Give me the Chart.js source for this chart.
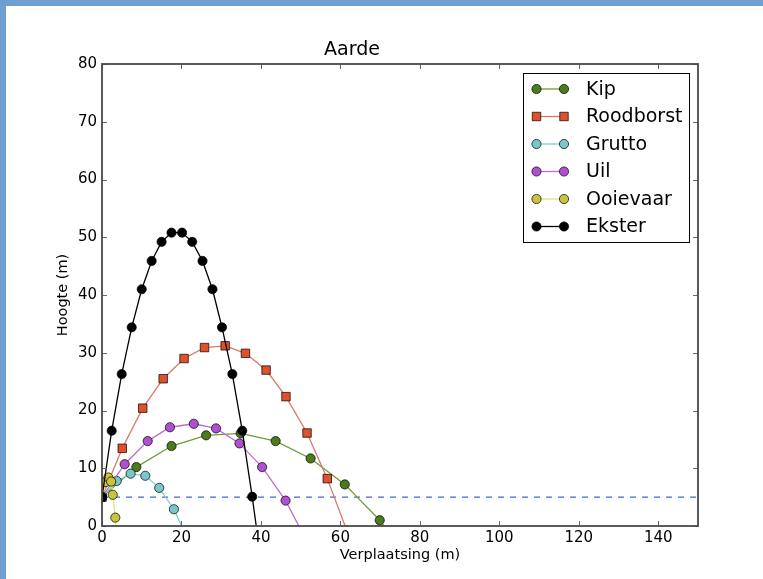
<!DOCTYPE html>
<html>
<head>
<meta charset="utf-8">
<script src="https://cdn.jsdelivr.net/npm/chart.js@4.4.1/dist/chart.umd.min.js"></script>
<style>
  html, body { margin: 0; padding: 0; background: #fff; }
  #wrap { width: 757px; height: 573px; border-left: 6px solid #6f9ed1; border-top: 6px solid #6f9ed1; background: #fff; }
  canvas { display: block; }
</style>
</head>
<body>
<div id="wrap"><canvas id="myChart" width="757" height="573"></canvas></div>
<script>
// series: horizontal distance (m) and height (m)
const kipX = [0, 8.65, 17.5, 26.2, 34.9, 43.7, 52.5, 61.1, 69.9, 78.7];
const kipY = [5, 10.2, 13.85, 15.7, 16.05, 14.7, 11.7, 7.2, 1.0, -6.8];

const roodborstX = [0, 5.1, 10.25, 15.4, 20.65, 25.8, 31.0, 36.1, 41.3, 46.3, 51.6, 56.7, 61.9];
const roodborstY = [5, 13.45, 20.4, 25.5, 29.0, 30.9, 31.2, 29.9, 27.0, 22.4, 16.1, 8.2, -1.3];

const gruttoX = [0, 3.7, 7.2, 10.9, 14.4, 18.1, 21.7];
const gruttoY = [5, 7.8, 9.06, 8.7, 6.6, 2.9, -2.5];

const uilX = [0, 5.7, 11.5, 17.1, 23.1, 28.7, 34.6, 40.3, 46.2, 51.9];
const uilY = [5, 10.7, 14.7, 17.1, 17.7, 16.9, 14.3, 10.2, 4.4, -3.1];

const ooievaarX = [0, 0.9, 1.6, 2.3, 2.7, 3.35, 3.8];
const ooievaarY = [5, 7.6, 8.4, 7.7, 5.4, 1.45, -3.5];

const eksterX = [0, 2.44, 4.96, 7.48, 10.0, 12.5, 15.0, 17.5, 20.15, 22.7, 25.3, 27.8, 30.2, 32.8, 35.3, 37.8, 40.3];
const eksterY = [5, 16.5, 26.3, 34.4, 41.0, 45.9, 49.2, 50.8, 50.8, 49.2, 45.9, 41.0, 34.4, 26.3, 16.5, 5.07, -7.4];

const refX = [0, 150];
const refY = [5, 5];

const xTicks = [0, 20, 40, 60, 80, 100, 120, 140];
const yTicks = [0, 10, 20, 30, 40, 50, 60, 70, 80];

const FONT = "'DejaVu Sans', sans-serif";

function pts(xs, ys) {
  return xs.map((x, i) => ({ x: x, y: ys[i] }));
}

function series(label, xs, ys, line, fill, style, radius, order) {
  return {
    label: label,
    data: pts(xs, ys),
    borderColor: line,
    borderWidth: 1.3,
    pointBackgroundColor: fill,
    pointBorderColor: '#000',
    pointBorderWidth: 0.7,
    pointStyle: style,
    pointRadius: radius,
    pointHoverRadius: radius,
    tension: 0,
    clip: 0,
    order: order
  };
}

const datasets = [
  {
    label: 'ref',
    data: pts(refX, refY),
    borderColor: '#3b5fd9',
    borderWidth: 1.2,
    borderDash: [6, 6],
    pointRadius: 0,
    clip: 0,
    order: 10
  },
  series('Kip', kipX, kipY, '#6f9b3c', '#4c7a1c', 'circle', 4.6, 6),
  series('Roodborst', roodborstX, roodborstY, '#d97a66', '#e0502c', 'rect', 6, 5),
  series('Grutto', gruttoX, gruttoY, '#86ccd0', '#7ac6ca', 'circle', 4.6, 4),
  series('Uil', uilX, uilY, '#b96fd6', '#b04fd2', 'circle', 4.6, 3),
  series('Ooievaar', ooievaarX, ooievaarY, '#e4e47a', '#c9c43a', 'circle', 4.6, 2),
  series('Ekster', eksterX, eksterY, '#000', '#000', 'circle', 4.6, 1)
];

// axes frame with inward ticks, like the original plot
const framePlugin = {
  id: 'frame',
  afterDatasetsDraw(chart) {
    const { ctx, chartArea: a, scales } = chart;
    ctx.save();
    ctx.strokeStyle = '#666';
    ctx.lineWidth = 1;
    ctx.beginPath();
    xTicks.forEach(v => {
      const px = Math.round(scales.x.getPixelForValue(v)) + 0.5;
      ctx.moveTo(px, a.bottom); ctx.lineTo(px, a.bottom - 5);
      ctx.moveTo(px, a.top); ctx.lineTo(px, a.top + 5);
    });
    yTicks.forEach(v => {
      const py = Math.round(scales.y.getPixelForValue(v)) + 0.5;
      ctx.moveTo(a.left, py); ctx.lineTo(a.left + 5, py);
      ctx.moveTo(a.right, py); ctx.lineTo(a.right - 5, py);
    });
    ctx.stroke();
    ctx.strokeStyle = '#4a4a4a';
    ctx.lineWidth = 1.8;
    ctx.strokeRect(a.left, a.top, a.right - a.left, a.bottom - a.top);
    ctx.restore();
  }
};

// legend with a line sample and two markers per entry
const legendPlugin = {
  id: 'boxLegend',
  afterDraw(chart) {
    const { ctx, chartArea: a } = chart;
    const items = chart.data.datasets.filter(d => d.label !== 'ref');
    const bx = a.left + 421, by = a.top + 9, bw = 166, bh = 169;
    ctx.save();
    ctx.fillStyle = '#fff';
    ctx.fillRect(bx, by, bw, bh);
    ctx.strokeStyle = '#000';
    ctx.lineWidth = 1;
    ctx.strokeRect(bx + 0.5, by + 0.5, bw, bh);
    items.forEach((d, i) => {
      const y = by + 16 + i * 27.5;
      const x1 = bx + 13.5, x2 = bx + 41;
      ctx.strokeStyle = d.borderColor;
      ctx.lineWidth = 1.3;
      ctx.beginPath();
      ctx.moveTo(x1, y); ctx.lineTo(x2, y);
      ctx.stroke();
      [x1, x2].forEach(x => {
        ctx.fillStyle = d.pointBackgroundColor;
        ctx.strokeStyle = '#000';
        ctx.lineWidth = 0.7;
        ctx.beginPath();
        if (d.pointStyle === 'rect') {
          const s = d.pointRadius * Math.SQRT1_2;
          ctx.rect(x - s, y - s, 2 * s, 2 * s);
        } else {
          ctx.arc(x, y, d.pointRadius, 0, Math.PI * 2);
        }
        ctx.fill();
        ctx.stroke();
      });
      ctx.fillStyle = '#000';
      ctx.font = '19px ' + FONT;
      ctx.textBaseline = 'middle';
      ctx.textAlign = 'left';
      ctx.fillText(d.label, bx + 63, y + 1);
    });
    ctx.restore();
  }
};

new Chart(document.getElementById('myChart'), {
  type: 'line',
  data: { datasets: datasets },
  options: {
    responsive: false,
    maintainAspectRatio: false,
    animation: false,
    layout: { padding: { left: 0, right: 65, top: 32.6, bottom: 0 } },
    plugins: {
      legend: { display: false },
      tooltip: { enabled: false },
      title: {
        display: true,
        text: 'Aarde',
        color: '#000',
        font: { family: FONT, size: 19, weight: 'normal', lineHeight: 1.2 },
        padding: { top: 0, bottom: 2.6 }
      }
    },
    scales: {
      x: {
        type: 'linear',
        min: 0,
        max: 150,
        afterBuildTicks: s => { s.ticks = xTicks.map(v => ({ value: v })); },
        afterFit: s => { s.height = 53; },
        grid: { display: false, drawTicks: false },
        border: { display: false },
        ticks: { color: '#000', padding: 3.5, maxRotation: 0, font: { family: FONT, size: 15 } },
        title: {
          display: true,
          text: 'Verplaatsing (m)',
          color: '#000',
          font: { family: FONT, size: 14.5, lineHeight: 1.2 },
          padding: { top: 0, bottom: 15.3 }
        }
      },
      y: {
        type: 'linear',
        min: 0,
        max: 80,
        afterBuildTicks: s => { s.ticks = yTicks.map(v => ({ value: v })); },
        afterFit: s => { s.width = 96; },
        grid: { display: false, drawTicks: false },
        border: { display: false },
        ticks: { color: '#000', padding: 5, font: { family: FONT, size: 15 } },
        title: {
          display: true,
          text: 'Hoogte (m)',
          color: '#000',
          font: { family: FONT, size: 14.5, lineHeight: 1.2 },
          padding: { top: 48.3, bottom: 0 }
        }
      }
    }
  },
  plugins: [framePlugin, legendPlugin]
});
</script>
</body>
</html>
